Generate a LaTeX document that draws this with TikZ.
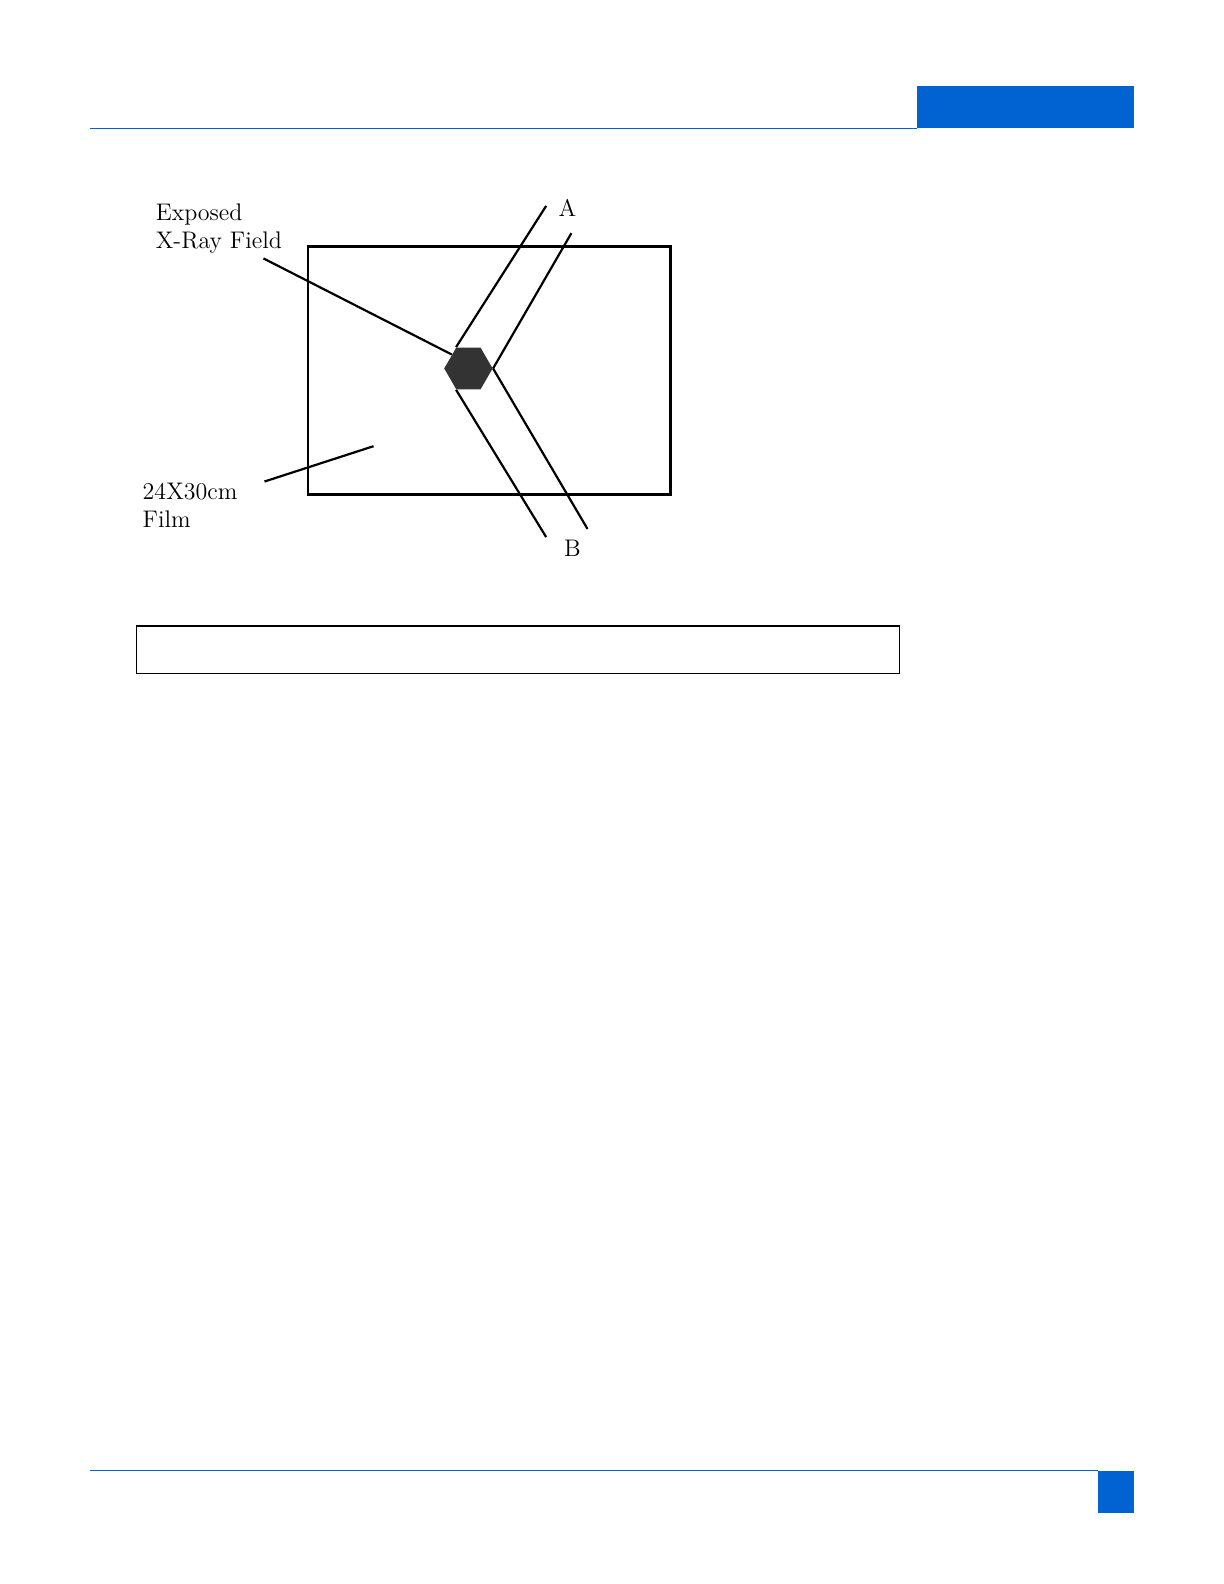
\documentclass[tikz,border=0pt]{standalone}
\usepackage{tikz}
\usetikzlibrary{shapes.geometric,positioning}
\definecolor{headblue}{RGB}{0,99,209}

\begin{document}
\begin{tikzpicture}[x=0.50475pt, y=-0.50475pt,
	every node/.style={font=\fontsize{12}{14}\selectfont},
	filmbox/.style={rectangle,draw=black,line width=1.3pt,minimum width=181.2pt,minimum height=124.2pt,inner sep=0pt},
	field/.style={regular polygon,regular polygon sides=6,fill=black!80,minimum size=24.2pt,inner sep=0pt},
	label/.style={align=left,anchor=west,inner sep=0pt},
	beam/.style={line width=1.1pt},
	rule/.style={headblue,line width=0.6pt}]
	\useasboundingbox (0pt,0pt) rectangle (612pt,-792pt);
	% page header and footer
	\fill[headblue] (908,85) rectangle (1123,127);
	\draw[rule] (89,127) -- (908,127);
	\draw[rule] (89,1457) -- (1088,1457);
	\fill[headblue] (1088,1457) rectangle (1123,1499);
	% film and exposed field
	\node[filmbox] (film) at (484.5,367) {};
	\node[field] (hex) at (464,365) {};
	\node[label] (exposed) at (154,226) {Exposed\\X-Ray Field};
	\node[label] (size) at (141,501) {24X30cm\\Film};
	\node (A) at (562,206) {A};
	\node (B) at (567,543) {B};
	\coordinate (a1) at (541,204);
	\coordinate (a2) at (566,231);
	\coordinate (b1) at (541,532);
	\coordinate (b2) at (582,524);
	\coordinate (exptip) at (261,256);
	\coordinate (filmtip) at (262,477);
	\coordinate (filmend) at (370,442);
	\path[beam] (a1) edge (hex.120);
	\path[beam] (a2) edge (hex.east);
	\path[beam] (hex.240) edge (b1);
	\path[beam] (hex.east) edge (b2);
	\path[beam] (exptip) edge (hex.140);
	\path[beam] (filmtip) edge (filmend);
	% caption frame
	\node[rectangle,draw=black,line width=0.7pt,minimum width=381.6pt,minimum height=23.7pt] (caption) at (513,643.5) {};
\end{tikzpicture}
\end{document}
